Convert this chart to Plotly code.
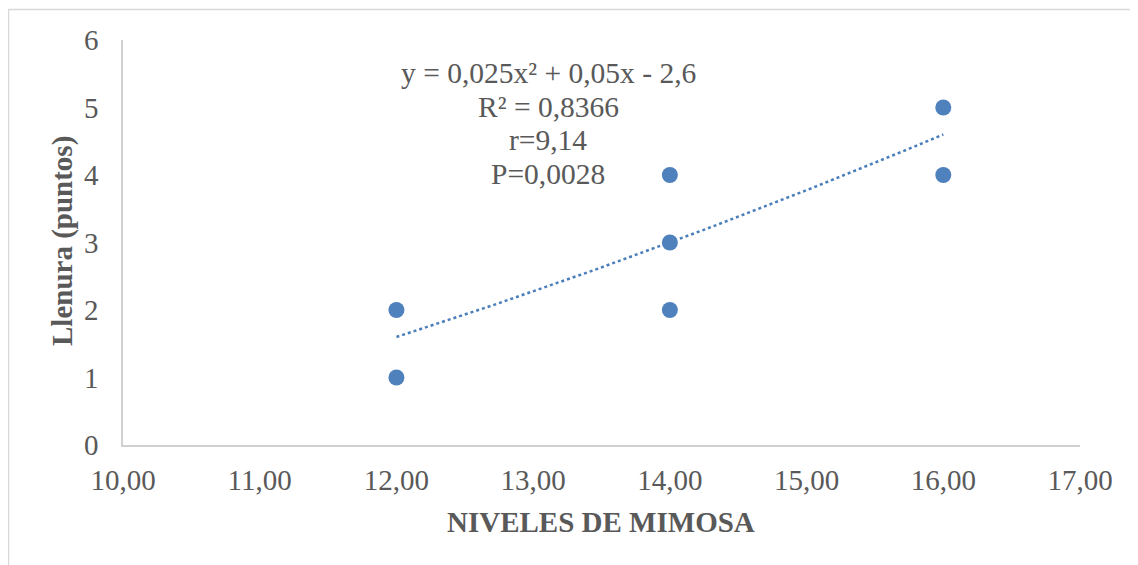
import numpy as np
import plotly.graph_objects as go

# Data
niveles = [12, 12, 14, 14, 14, 16, 16]
llenura = [2, 1, 4, 3, 2, 5, 4]
poly_coef = [0.025, 0.05, -2.6]   # y = a x^2 + b x + c
trend_range = [12, 16]
x_ticks = [10, 11, 12, 13, 14, 15, 16, 17]
x_tick_labels = ["10,00", "11,00", "12,00", "13,00", "14,00", "15,00", "16,00", "17,00"]
y_ticks = [0, 1, 2, 3, 4, 5, 6]
stats_lines = ["y = 0,025x² + 0,05x - 2,6", "R² = 0,8366", "r=9,14", "P=0,0028"]
x_title = "NIVELES DE MIMOSA"
y_title = "Llenura (puntos)"

FONT = "Liberation Serif, Times New Roman, serif"
GREY = "#595959"
BLUE = "#4f81bd"

# plot area in screen pixels (page has 8px body margin)
PL, PR, PT, PB = 123, 1080, 40, 445
PW, PH = PR - PL, PB - PT
OFF = 8

def px(x):
    return (x - PL) / PW

def py(y):
    return (PB - y) / PH

xt = np.linspace(trend_range[0], trend_range[1], 60)
yt = np.polyval(poly_coef, xt)

fig = go.Figure()
fig.add_trace(go.Scatter(x=xt, y=yt, mode="lines",
                         line=dict(color="#4a7ebb", width=2.5, dash="dot"),
                         hoverinfo="skip", showlegend=False))
fig.add_trace(go.Scatter(x=niveles, y=llenura, mode="markers",
                         marker=dict(color=BLUE, size=16, line=dict(width=0)),
                         showlegend=False))

annotations = []
for i, line in enumerate(stats_lines):
    annotations.append(dict(x=px(548), y=py(73 + 33.5 * i), xref="paper", yref="paper",
                            text=line, showarrow=False, xanchor="center", yanchor="middle",
                            font=dict(size=29.5, color=GREY, family=FONT)))
annotations += [
    dict(x=px(601), y=py(522), xref="paper", yref="paper",
         text="<b>" + x_title + "</b>", showarrow=False,
         xanchor="center", yanchor="middle",
         font=dict(size=29, color=GREY, family=FONT)),
    dict(x=px(62), y=py(241), xref="paper", yref="paper",
         text="<b>" + y_title + "</b>", showarrow=False, textangle=-90,
         xanchor="center", yanchor="middle",
         font=dict(size=29, color=GREY, family=FONT)),
]

fig.update_layout(
    width=1138, height=565,
    margin=dict(l=PL - OFF, r=1138 + OFF - PR, t=PT - OFF, b=565 + OFF - PB, autoexpand=False),
    paper_bgcolor="white", plot_bgcolor="white",
    font=dict(family=FONT, size=29, color=GREY),
    xaxis=dict(range=[10, 17], tickvals=x_ticks, ticktext=x_tick_labels,
               showgrid=False, zeroline=False, showline=True,
               linecolor="#d0d0d0", linewidth=1.5, ticks="",
               ticklabelstandoff=8),
    yaxis=dict(range=[0, 6], tickvals=y_ticks,
               showgrid=False, zeroline=False, showline=True,
               linecolor="#d0d0d0", linewidth=1.5, ticks="",
               ticklabelstandoff=17),
    annotations=annotations,
    shapes=[dict(type="rect", xref="paper", yref="paper",
                 x0=px(8.5), x1=px(1170), y0=py(600), y1=py(9.5),
                 line=dict(color="#d9d9d9", width=1.5), fillcolor="rgba(0,0,0,0)",
                 layer="below")],
)

fig.write_html("out.html")
